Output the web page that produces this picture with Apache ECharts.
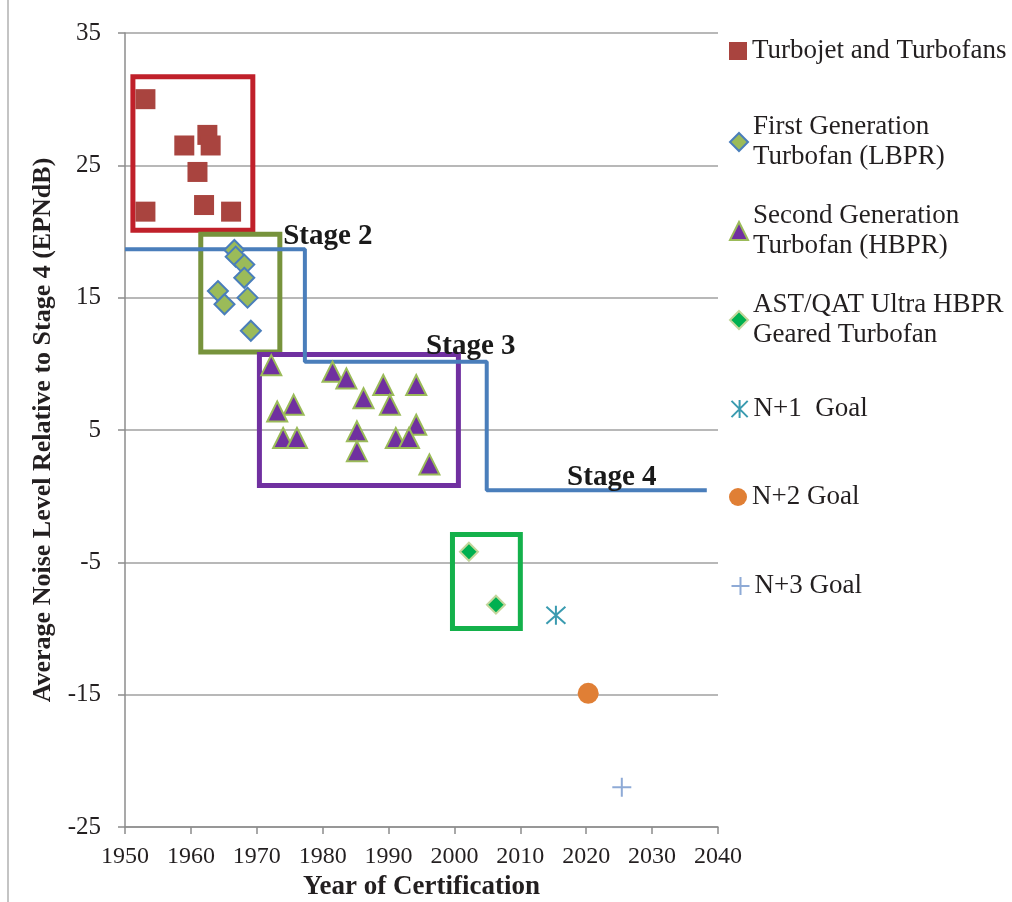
<!DOCTYPE html>
<html>
<head>
<meta charset="utf-8">
<script src="https://cdn.jsdelivr.net/npm/echarts@6/dist/echarts.min.js"></script>
<style>
html,body{margin:0;padding:0;background:#fff;}
#main{width:1012px;height:902px;}
</style>
</head>
<body>
<div id="main"></div>
<script>
// data: [year, EPNdB relative to stage 4]
var turbojet = [[1953.1,30.0],[1959.0,26.5],[1962.5,27.3],[1963.0,26.5],[1961.0,24.5],[1953.1,21.5],[1962.0,22.0],[1966.1,21.5]];
var firstGen = [[1966.6,18.6],[1966.8,18.1],[1968.1,17.5],[1968.1,16.5],[1964.1,15.5],[1965.1,14.5],[1968.6,15.0],[1969.1,12.5]];
var secondGen = [[1972.2,9.9],[1981.5,9.4],[1983.6,8.9],[1989.2,8.4],[1994.2,8.4],[1986.2,7.4],[1990.2,6.9],[1975.6,6.9],
  [1973.1,6.4],[1994.2,5.4],[1985.2,4.9],[1974.0,4.4],[1976.1,4.4],[1991.1,4.4],[1993.1,4.4],[1985.2,3.4],[1996.2,2.4]];
var astQat = [[2002.2,-4.2],[2006.3,-8.2]];
var nPlus1 = [[2015.4,-9.0]];
var nPlus2 = [[2020.3,-14.9]];
var nPlus3 = [[2025.4,-22.0]];

// noise limit steps
var stageX = [1950, 1977.3, 1977.3, 2004.9, 2004.9, 2038.3];
var stageY = [18.65, 18.65, 10.15, 10.15, 0.45, 0.45];
var stageLabels = [['Stage 2',1974.0,19.6],['Stage 3',1995.7,11.3],['Stage 4',2017.1,1.4]];

// group boxes [x1, y1, x2, y2]
var boxTurbojet = [1951.2, 31.7, 1969.4, 20.1];
var boxFirst = [1961.5, 19.8, 1973.5, 10.9];
var boxSecond = [1970.4, 10.7, 2000.6, 0.8];
var boxAst = [1999.7, -2.9, 2010.0, -10.0];

var names = ['Turbojet and Turbofans','First Generation\nTurbofan (LBPR)','Second Generation\nTurbofan (HBPR)',
  'AST/QAT Ultra HBPR\nGeared Turbofan','N+1  Goal','N+2 Goal','N+3 Goal'];
var legendY = [51, 142, 231, 320, 409, 497, 586];

var font = "'Liberation Serif','Times New Roman',serif";

function box(b, color){
  return {
    silent: true,
    label: {show: false},
    itemStyle: {color: 'rgba(0,0,0,0)', borderColor: color, borderWidth: 5},
    data: [[{coord: [b[0], b[1]]}, {coord: [b[2], b[3]]}]]
  };
}

var stageLine = stageX.map(function(x, i){ return [x, stageY[i]]; });

var myChart = echarts.init(document.getElementById('main'));

var legends = names.map(function(n, i){
  var two = n.indexOf('\n') >= 0;
  return {
    data: [n],
    left: 729,
    top: legendY[i] - (two ? 45 : 15),
    padding: 0,
    itemWidth: 18,
    itemHeight: 18,
    selectedMode: false,
    textStyle: {
      fontFamily: font, fontSize: 27, color: '#231f20', lineHeight: 30,
      padding: two ? [30, 0, 0, 0] : 0
    }
  };
});

var option = {
  backgroundColor: '#fff',
  animation: false,
  grid: {left: 125, right: 294, top: 33, bottom: 75, outerBoundsMode: 'none'},
  legend: legends,
  xAxis: {
    type: 'value', min: 1950, max: 2040, interval: 10,
    name: 'Year of Certification', nameLocation: 'middle', nameGap: 46,
    nameTextStyle: {fontFamily: font, fontSize: 27, fontWeight: 'bold', color: '#231f20'},
    axisLine: {show: true, onZero: false, lineStyle: {color: '#8c8c8c', width: 1.5}},
    axisTick: {show: true, length: 7, lineStyle: {color: '#8c8c8c', width: 1.5}},
    axisLabel: {fontFamily: font, fontSize: 24, color: '#231f20', margin: 18, formatter: function(v){ return String(v); }},
    splitLine: {show: false}
  },
  yAxis: {
    type: 'value', min: -25, max: 35, interval: 10,
    name: 'Average Noise Level Relative to Stage 4 (EPNdB)', nameLocation: 'middle', nameGap: 64, nameRotate: 90,
    nameTextStyle: {fontFamily: font, fontSize: 26, fontWeight: 'bold', color: '#231f20'},
    axisLine: {show: true, lineStyle: {color: '#8c8c8c', width: 1.5}},
    axisTick: {show: true, length: 7, lineStyle: {color: '#8c8c8c', width: 1.5}},
    axisLabel: {fontFamily: font, fontSize: 25, color: '#231f20', margin: 24},
    splitLine: {show: true, lineStyle: {color: '#a0a0a0', width: 1.5}}
  },
  graphic: [{type: 'line', shape: {x1: 8, y1: 0, x2: 8, y2: 902}, style: {stroke: '#b0b0b0', lineWidth: 1.5}, silent: true}],
  series: [
    {
      name: 'stage', type: 'line', data: stageLine, symbol: 'none', silent: true, z: 1,
      lineStyle: {color: '#4a7ebb', width: 4}
    },
    {
      name: 'stageText', type: 'scatter', symbolSize: 0, silent: true, z: 5,
      itemStyle: {opacity: 1},
      data: stageLabels.map(function(s){ return {name: s[0], value: [s[1], s[2]]}; }),
      label: {show: true, position: 'right', distance: 0, formatter: '{b}',
        fontFamily: font, fontSize: 29, fontWeight: 'bold', color: '#1a1a1a', opacity: 1}
    },
    {
      name: names[0], type: 'scatter', symbol: 'rect', symbolSize: 20, data: turbojet, z: 3,
      itemStyle: {color: '#a9443f', opacity: 1},
      markArea: box(boxTurbojet, '#c0202a')
    },
    {
      name: names[1], type: 'scatter', symbol: 'diamond', symbolSize: 20, data: firstGen, z: 3,
      itemStyle: {color: '#9bbb59', borderColor: '#4a7ebb', borderWidth: 2, opacity: 1},
      markArea: box(boxFirst, '#77933c')
    },
    {
      name: names[2], type: 'scatter', symbol: 'triangle', symbolSize: 20, data: secondGen, z: 3,
      itemStyle: {color: '#7030a0', borderColor: '#9bbb59', borderWidth: 2, opacity: 1},
      markArea: box(boxSecond, '#7030a0')
    },
    {
      name: names[3], type: 'scatter', symbol: 'diamond', symbolSize: 18, data: astQat, z: 3,
      itemStyle: {color: '#00b050', borderColor: '#c3d69b', borderWidth: 2, opacity: 1},
      markArea: box(boxAst, '#14b14b')
    },
    {
      name: names[4], type: 'scatter', symbol: 'path://M5,0L5,10M0.5,0.5L9.5,9.5M0.5,9.5L9.5,0.5', symbolSize: 19, data: nPlus1, z: 3,
      itemStyle: {color: 'none', borderColor: '#3a9bb0', borderWidth: 2, opacity: 1}
    },
    {
      name: names[5], type: 'scatter', symbol: 'circle', symbolSize: 21, data: nPlus2, z: 3,
      itemStyle: {color: '#e07f35', opacity: 1}
    },
    {
      name: names[6], type: 'scatter', symbol: 'path://M5,0L5,10M0,5L10,5', symbolSize: 19, data: nPlus3, z: 3,
      itemStyle: {color: 'none', borderColor: '#8eaad6', borderWidth: 2, opacity: 1}
    }
  ]
};

myChart.setOption(option);
</script>
</body>
</html>
